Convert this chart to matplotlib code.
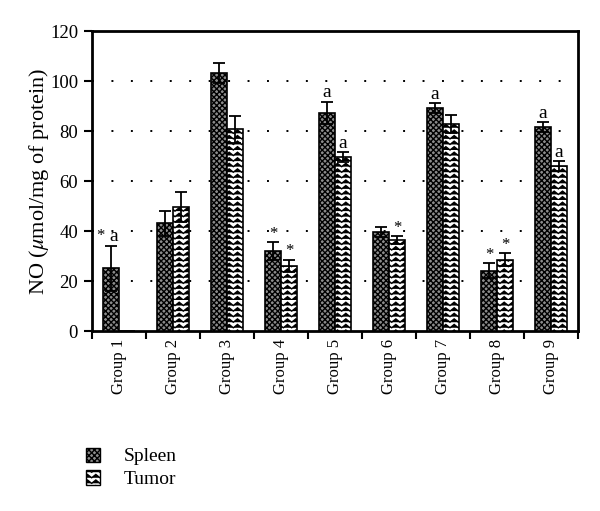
import warnings
warnings.filterwarnings("ignore")
import numpy as np
import matplotlib
matplotlib.use("Agg")
import matplotlib.pyplot as plt
import matplotlib.hatch as mhatch
from matplotlib.path import Path
from matplotlib.patches import Patch

# ---- data ----
groups = ["Group 1", "Group 2", "Group 3", "Group 4", "Group 5",
          "Group 6", "Group 7", "Group 8", "Group 9"]
spleen = [25.2, 43.2, 103.2, 32.0, 87.2, 39.6, 89.2, 24.1, 81.5]
spleen_err = [9.0, 5.0, 4.0, 3.5, 4.5, 2.0, 2.0, 3.0, 2.0]
tumor = [0.0, 49.6, 80.7, 26.0, 69.6, 36.4, 82.8, 28.6, 66.0]
tumor_err = [0.0, 6.0, 5.5, 2.5, 2.0, 1.5, 3.5, 2.5, 2.0]
spleen_marks = ["*a", "", "", "*", "a", "", "a", "*", "a"]
tumor_marks = ["", "", "", "*", "a", "*", "", "*", "a"]
yticks = [0, 20, 40, 60, 80, 100, 120]


# ---- custom zigzag hatch ----
class ZigZagHatch(mhatch.HatchPatternBase):
    def __init__(self, hatch, density):
        self.num_rows = int(hatch.count('z') * density)
        self.periods = 12
        self.num_lines = self.num_rows
        self.num_vertices = self.num_rows * (2 * self.periods + 1)

    def set_vertices_and_codes(self, vertices, codes):
        n = 2 * self.periods + 1
        amp = 0.6 / max(self.num_rows, 1)
        xs = np.linspace(0, 1, n)
        ys_off = np.where(np.arange(n) % 2 == 1, amp, 0.0)
        for i in range(self.num_rows):
            y0 = i / self.num_rows
            vertices[i * n:(i + 1) * n, 0] = xs
            vertices[i * n:(i + 1) * n, 1] = y0 + ys_off
            codes[i * n] = Path.MOVETO
            codes[i * n + 1:(i + 1) * n] = Path.LINETO


mhatch._hatch_types.append(ZigZagHatch)

plt.rcParams['font.family'] = ['Liberation Serif', 'DejaVu Serif']
plt.rcParams['mathtext.fontset'] = 'stix'
plt.rcParams['hatch.linewidth'] = 1.0

SPLEEN_FC = '#8c8c8c'

fig = plt.figure(figsize=(6.0, 5.11), dpi=100)
ax = fig.add_axes([92 / 600, 1 - 331 / 511, (578 - 92) / 600, 300 / 511])

x = np.arange(len(groups)) + 0.5
w = 0.3

ax.bar(x - w / 2, spleen, width=w, facecolor=SPLEEN_FC, edgecolor='black',
       hatch='xxxxxx', linewidth=1.2, zorder=3)
ax.bar(x + w / 2, tumor, width=w, facecolor='white', edgecolor='black',
       hatch='zzz', linewidth=1.2, zorder=3)

ax.errorbar(x - w / 2, spleen, yerr=spleen_err, fmt='none', ecolor='black',
            elinewidth=1.3, capsize=4, capthick=1.3, zorder=4)
ax.errorbar((x + w / 2)[1:], tumor[1:], yerr=tumor_err[1:], fmt='none',
            ecolor='black', elinewidth=1.3, capsize=4, capthick=1.3, zorder=4)

# significance marks
for i in range(len(groups)):
    for xs, val, err, mk in ((x[i] - w / 2, spleen[i], spleen_err[i], spleen_marks[i]),
                             (x[i] + w / 2, tumor[i], tumor_err[i], tumor_marks[i])):
        top = val + err
        if mk == "*a":
            ax.text(xs - 0.2, top + 0.8, "*", ha='center', va='bottom', fontsize=12)
            ax.text(xs + 0.06, top + 0.2, "a", ha='center', va='bottom', fontsize=14)
        elif mk == "*":
            ax.text(xs, top + 0.2, "*", ha='center', va='bottom', fontsize=12)
        elif mk == "a":
            ax.text(xs, top + 0.2, "a", ha='center', va='bottom', fontsize=14)

ax.set_xlim(0, len(groups))
ax.set_ylim(0, 120)
ax.set_yticks(yticks)
ax.set_yticklabels([str(t) for t in yticks], fontsize=13.5)
ax.set_xticks(np.arange(len(groups) + 1))
ax.set_xticklabels([])
ax.set_xticks(x, minor=True)
ax.set_xticklabels(groups, minor=True, rotation=90, fontsize=12)
ax.tick_params(axis='x', which='minor', length=0, pad=6)
ax.tick_params(axis='both', which='major', direction='out', length=6, width=1.5)
ax.tick_params(axis='y', pad=4)

for t in yticks[1:-1]:
    ax.axhline(t, color='black', linestyle=(0, (1, 9)), linewidth=1.4, zorder=1)

for s in ax.spines.values():
    s.set_linewidth(2)

ax.set_ylabel(r'NO ($\mu$mol/mg of protein)', fontsize=16, labelpad=-1)

handles = [Patch(facecolor=SPLEEN_FC, edgecolor='black', hatch='xxxxxx'),
           Patch(facecolor='white', edgecolor='black', hatch='zzz')]
fig.legend(handles, ['Spleen', 'Tumor'], loc='upper left',
           bbox_to_anchor=(68 / 600, 1 - 430 / 511), frameon=False,
           fontsize=14, handlelength=0.75, handleheight=0.75,
           handletextpad=1.2, labelspacing=0.25)

fig.savefig('out.png', dpi=100)
